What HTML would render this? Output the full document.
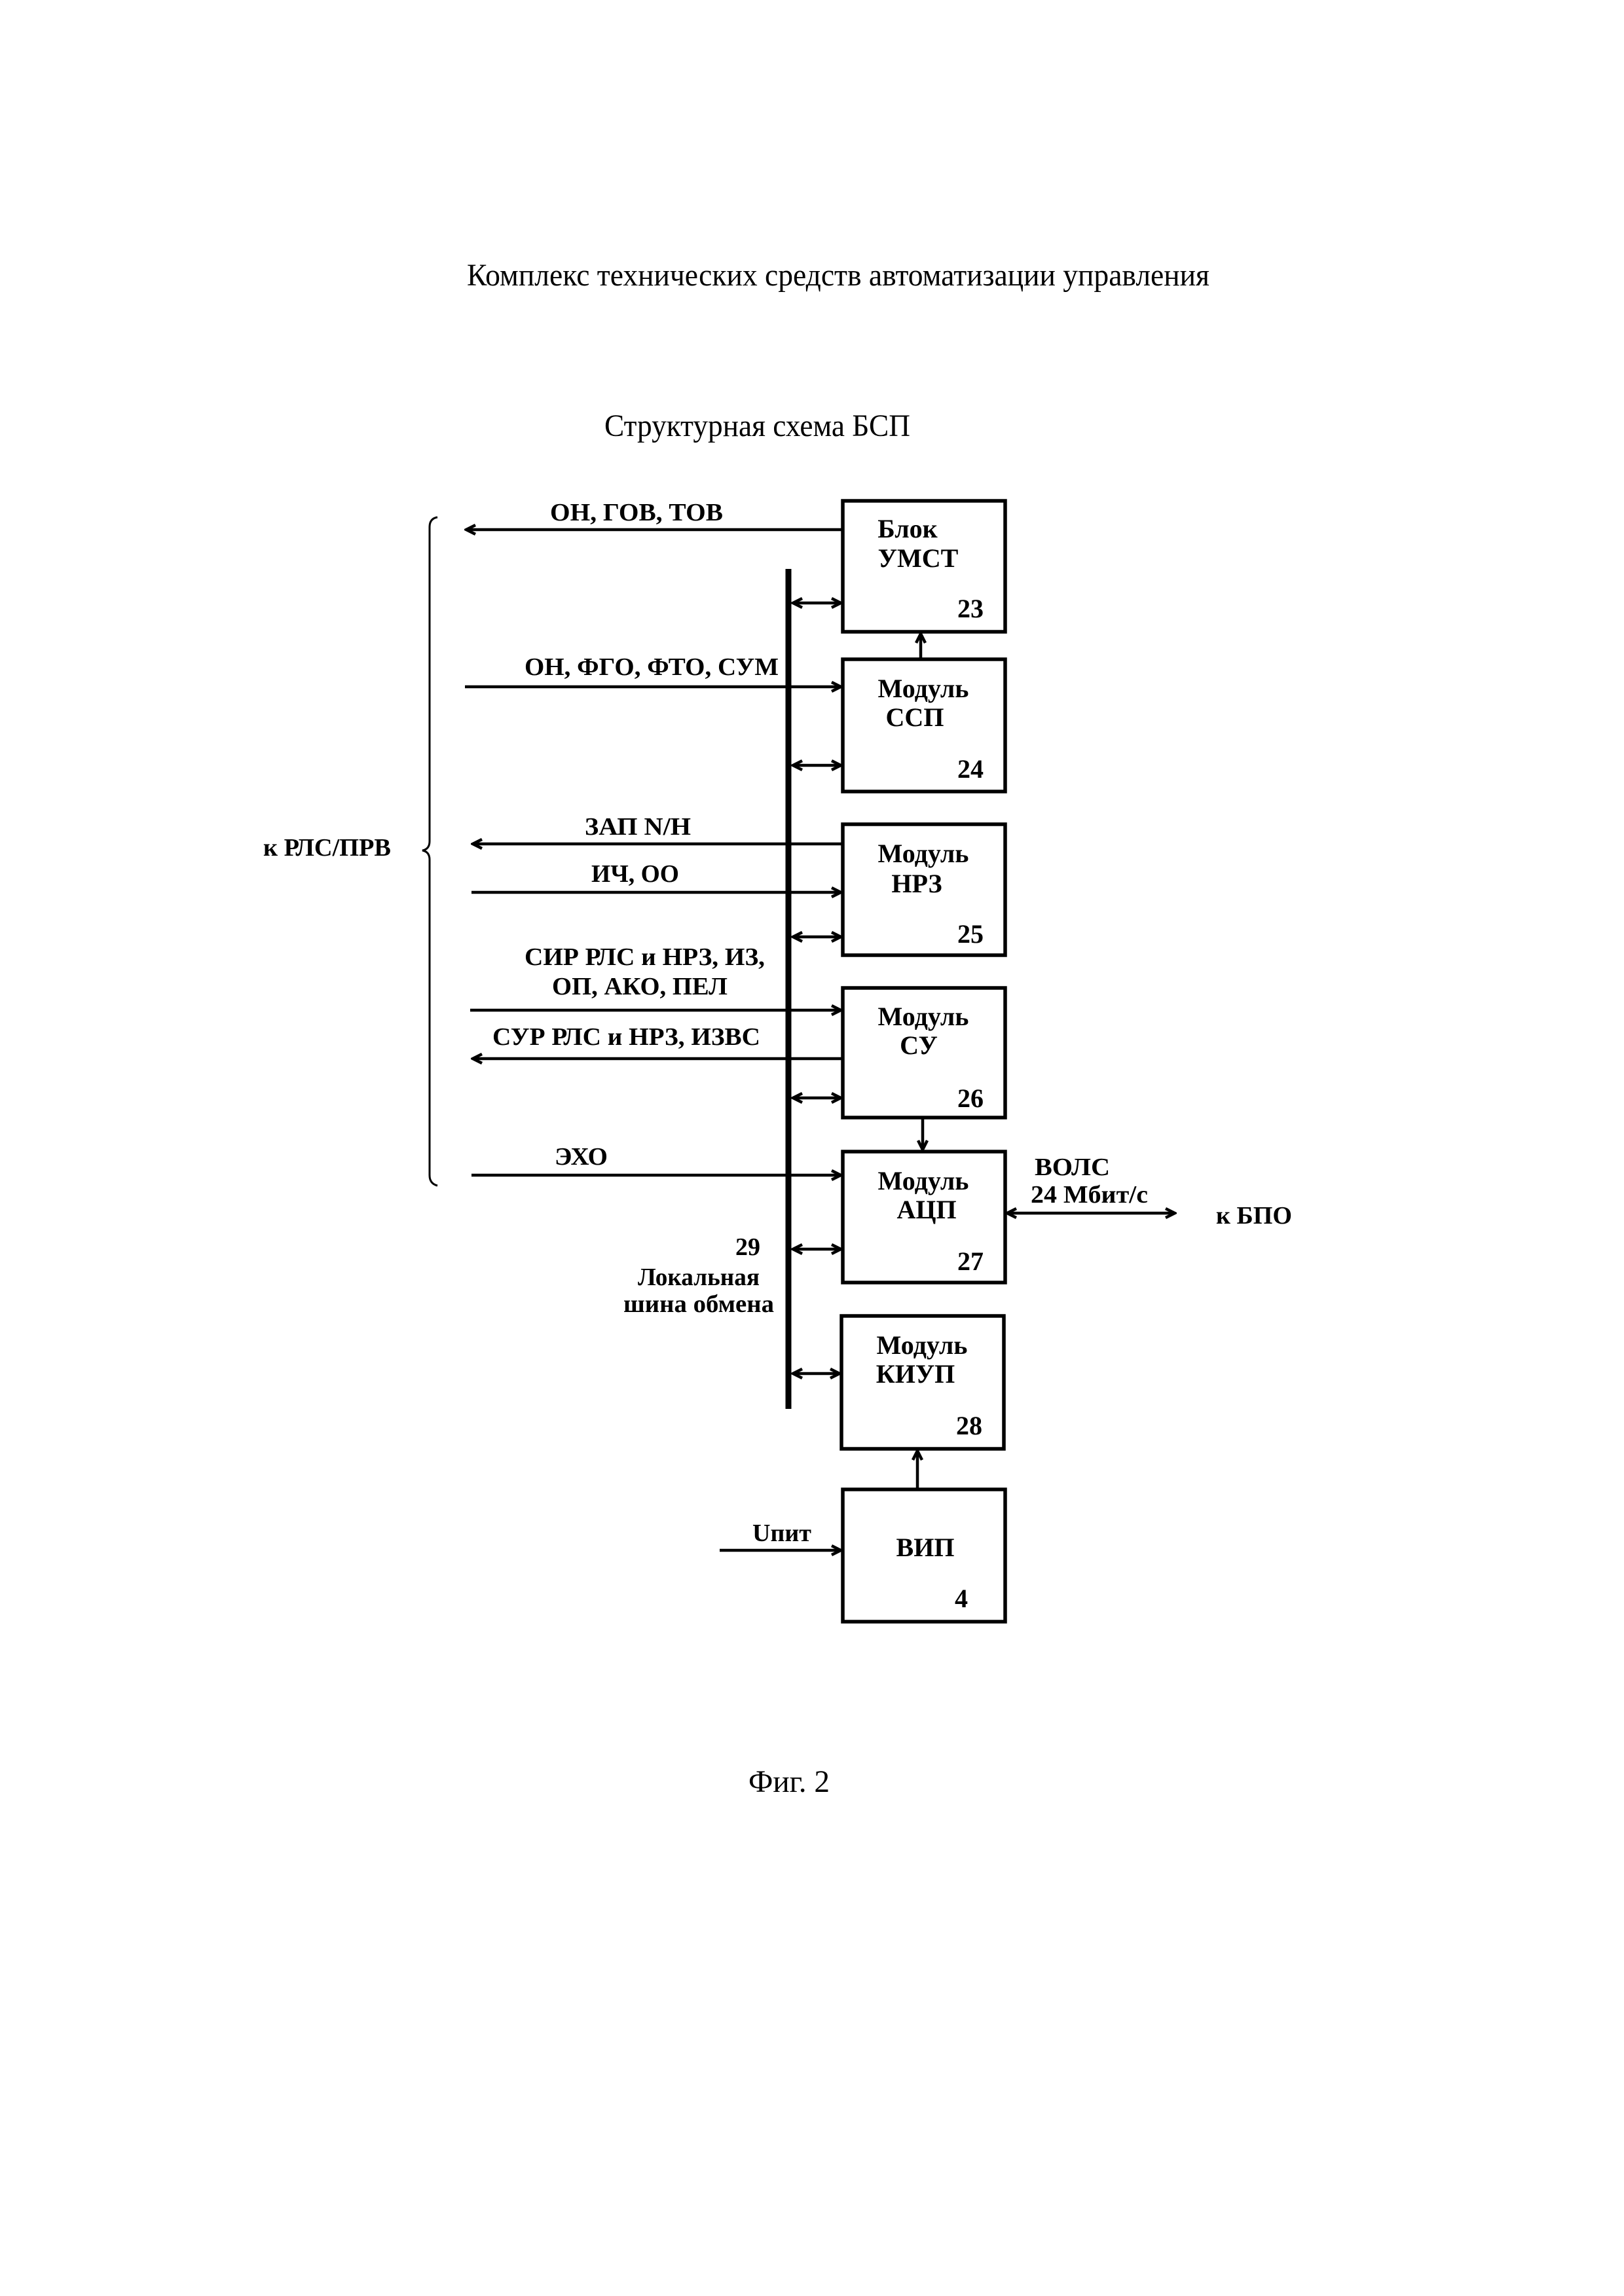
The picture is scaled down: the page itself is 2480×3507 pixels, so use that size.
<!DOCTYPE html>
<html><head><meta charset="utf-8"><style>html,body{margin:0;padding:0;background:#fff}svg{display:block}</style></head>
<body>
<svg width="2480" height="3507" viewBox="0 0 2480 3507" xmlns="http://www.w3.org/2000/svg" font-family="'Liberation Serif', serif" fill="#000">
<defs>
<marker id="a" markerWidth="20" markerHeight="20" refX="17" refY="10" orient="auto-start-reverse" markerUnits="userSpaceOnUse">
<path d="M3,3 L17,10 L3,17" fill="none" stroke="#000" stroke-width="4.5"/>
</marker>
</defs>
<g font-size="48">
<text x="713" y="436" textLength="1134" lengthAdjust="spacingAndGlyphs">Комплекс технических средств автоматизации управления</text>
<text x="923" y="666" textLength="467" lengthAdjust="spacingAndGlyphs">Структурная схема БСП</text>
<text x="1143" y="2737" textLength="124" lengthAdjust="spacingAndGlyphs">Фиг. 2</text>
</g>
<g fill="none" stroke="#000" stroke-width="5.5">
<rect x="1287" y="765" width="248" height="200"/>
<rect x="1287" y="1007" width="248" height="202"/>
<rect x="1287" y="1259" width="248" height="200"/>
<rect x="1287" y="1509" width="248" height="198"/>
<rect x="1287" y="1759" width="248" height="200"/>
<rect x="1285" y="2010" width="248" height="203"/>
<rect x="1287" y="2275" width="248" height="202"/>
</g>
<line x1="1204" y1="869" x2="1204" y2="2152" stroke="#000" stroke-width="9"/>
<g stroke="#000" stroke-width="4.5" fill="none">
<path d="M668,790 Q656,792 656,805 L656,1285 Q656,1297 645,1299 Q656,1301 656,1313 L656,1795 Q656,1808 668,1811" stroke-width="3"/>
<line x1="1287" y1="809" x2="712" y2="809" marker-end="url(#a)"/>
<line x1="710" y1="1049" x2="1284" y2="1049" marker-end="url(#a)"/>
<line x1="1287" y1="1289" x2="722" y2="1289" marker-end="url(#a)"/>
<line x1="720" y1="1363" x2="1284" y2="1363" marker-end="url(#a)"/>
<line x1="718" y1="1543" x2="1284" y2="1543" marker-end="url(#a)"/>
<line x1="1287" y1="1617" x2="722" y2="1617" marker-end="url(#a)"/>
<line x1="720" y1="1795" x2="1284" y2="1795" marker-end="url(#a)"/>
<line x1="1211" y1="921" x2="1284" y2="921" marker-start="url(#a)" marker-end="url(#a)"/>
<line x1="1211" y1="1169" x2="1284" y2="1169" marker-start="url(#a)" marker-end="url(#a)"/>
<line x1="1211" y1="1431" x2="1284" y2="1431" marker-start="url(#a)" marker-end="url(#a)"/>
<line x1="1211" y1="1677" x2="1284" y2="1677" marker-start="url(#a)" marker-end="url(#a)"/>
<line x1="1211" y1="1908" x2="1284" y2="1908" marker-start="url(#a)" marker-end="url(#a)"/>
<line x1="1211" y1="2098" x2="1282" y2="2098" marker-start="url(#a)" marker-end="url(#a)"/>
<line x1="1406" y1="1007" x2="1406" y2="968" marker-end="url(#a)"/>
<line x1="1409" y1="1707" x2="1409" y2="1756" marker-end="url(#a)"/>
<line x1="1401" y1="2275" x2="1401" y2="2216" marker-end="url(#a)"/>
<line x1="1099" y1="2368" x2="1284" y2="2368" marker-end="url(#a)"/>
<line x1="1538" y1="1853" x2="1794" y2="1853" marker-start="url(#a)" marker-end="url(#a)"/>
</g>
<g font-size="38" font-weight="bold">
<text x="840" y="795" textLength="264" lengthAdjust="spacingAndGlyphs">ОН, ГОВ, ТОВ</text>
<text x="801" y="1031" textLength="388" lengthAdjust="spacingAndGlyphs">ОН, ФГО, ФТО, СУМ</text>
<text x="893" y="1275" textLength="162" lengthAdjust="spacingAndGlyphs">ЗАП N/H</text>
<text x="903" y="1347" textLength="134" lengthAdjust="spacingAndGlyphs">ИЧ, ОО</text>
<text x="801" y="1474" textLength="367" lengthAdjust="spacingAndGlyphs">СИР РЛС и НРЗ, ИЗ,</text>
<text x="843" y="1519" textLength="268" lengthAdjust="spacingAndGlyphs">ОП, АКО, ПЕЛ</text>
<text x="752" y="1596" textLength="409" lengthAdjust="spacingAndGlyphs">СУР РЛС и НРЗ, ИЗВС</text>
<text x="847" y="1779" textLength="81" lengthAdjust="spacingAndGlyphs">ЭХО</text>
<text x="402" y="1307" textLength="195" lengthAdjust="spacingAndGlyphs">к РЛС/ПРВ</text>
<text x="1580" y="1795" textLength="115" lengthAdjust="spacingAndGlyphs">ВОЛС</text>
<text x="1574" y="1837" textLength="179" lengthAdjust="spacingAndGlyphs">24 Мбит/с</text>
<text x="1857" y="1869" textLength="116" lengthAdjust="spacingAndGlyphs">к БПО</text>
<text x="1142" y="1917" text-anchor="middle">29</text>
<text x="1067" y="1963" text-anchor="middle" textLength="186" lengthAdjust="spacingAndGlyphs">Локальная</text>
<text x="1067" y="2004" text-anchor="middle" textLength="230" lengthAdjust="spacingAndGlyphs">шина обмена</text>
<text x="1194" y="2354" text-anchor="middle">Uпит</text>
</g>
<g font-size="40" text-anchor="middle" font-weight="bold">
<text x="1386" y="821">Блок</text>
<text x="1402" y="866">УМСТ</text>
<text x="1482" y="943">23</text>
<text x="1410" y="1065">Модуль</text>
<text x="1397" y="1109">ССП</text>
<text x="1482" y="1188">24</text>
<text x="1410" y="1317">Модуль</text>
<text x="1400" y="1363">НРЗ</text>
<text x="1482" y="1440">25</text>
<text x="1410" y="1566">Модуль</text>
<text x="1403" y="1610">СУ</text>
<text x="1482" y="1691">26</text>
<text x="1410" y="1817">Модуль</text>
<text x="1415" y="1861">АЦП</text>
<text x="1482" y="1940">27</text>
<text x="1408" y="2068">Модуль</text>
<text x="1398" y="2112">КИУП</text>
<text x="1480" y="2191">28</text>
<text x="1413" y="2377">ВИП</text>
<text x="1468" y="2455">4</text>
</g>
</svg>
</body></html>
